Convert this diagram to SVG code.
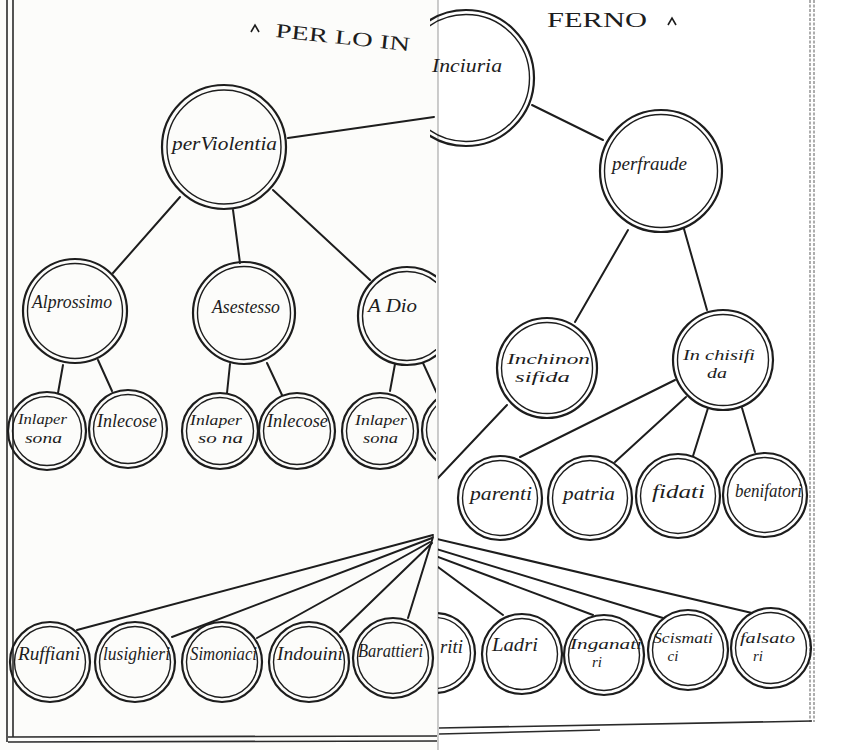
<svg xmlns="http://www.w3.org/2000/svg" width="856" height="750" viewBox="0 0 856 750">
<style>
.o{fill:none;stroke:#1d1d1d;stroke-width:2.2}
.i{fill:none;stroke:#1d1d1d;stroke-width:1.4}
.c{fill:none;stroke:#1d1d1d;stroke-width:2;stroke-linecap:round}
.t{font-family:"Liberation Serif","DejaVu Serif",serif;font-style:italic;font-size:18px;fill:#1d1d1d}
.s{font-size:15px}
.h{font-family:"Liberation Serif","DejaVu Serif",serif;font-size:20px;fill:#1d1d1d}
.b{fill:none;stroke:#2a2a2a;stroke-width:1.6}
.bd{fill:none;stroke:#777;stroke-width:1.2;stroke-dasharray:3 1.5}
</style>
<defs>
<clipPath id="cl"><rect x="0" y="0" width="436" height="750"/></clipPath>
<clipPath id="cr"><rect x="438" y="0" width="418" height="750"/></clipPath>
<clipPath id="cr2"><rect x="430" y="0" width="426" height="750"/></clipPath>
</defs>
<rect x="0" y="0" width="856" height="750" fill="#ffffff"/>
<rect x="0" y="0" width="438" height="750" fill="#fcfcfa"/>

<!-- page frames -->
<g id="frame">
<line class="b" x1="7" y1="0" x2="7" y2="742"/>
<line class="b" x1="13" y1="0" x2="13" y2="737" stroke-width="1.2"/>
<line class="b" x1="8" y1="737" x2="437" y2="736"/>
<line class="b" x1="8" y1="742" x2="437" y2="741" stroke-width="1.2"/>
<line x1="438" y1="0" x2="438" y2="750" stroke="#999" stroke-width="1"/>
<line class="bd" x1="810" y1="0" x2="810" y2="722"/>
<line class="bd" x1="814" y1="0" x2="814" y2="722"/>
<line class="b" x1="439" y1="728" x2="812" y2="721"/>
<line class="b" x1="439" y1="734" x2="600" y2="730" stroke-width="1.2"/>
</g>

<!-- title -->
<g id="title">
<path d="M251,32 L255,25 L259,32" fill="none" stroke="#1d1d1d" stroke-width="1.6"/>
<text class="h" x="275" y="37" textLength="135" lengthAdjust="spacingAndGlyphs" transform="rotate(6 275 37)">PER LO IN</text>
<text class="h" x="547" y="27" textLength="100" lengthAdjust="spacingAndGlyphs">FERNO</text>
<path d="M668,25 L672,18 L676,25" fill="none" stroke="#1d1d1d" stroke-width="1.6"/>
</g>

<!-- connectors -->
<g id="connectors">
<g clip-path="url(#cl)">
<line class="c" x1="288" y1="138" x2="434" y2="117"/>
<line class="c" x1="180" y1="197" x2="113" y2="273"/>
<line class="c" x1="233" y1="210" x2="240" y2="263"/>
<line class="c" x1="273" y1="190" x2="370" y2="280" stroke-width="1.5"/>
<line class="c" x1="63" y1="365" x2="58" y2="393"/>
<line class="c" x1="98" y1="360" x2="112" y2="391"/>
<line class="c" x1="230" y1="364" x2="227" y2="393"/>
<line class="c" x1="267" y1="363" x2="282" y2="395"/>
<line class="c" x1="395" y1="364" x2="390" y2="391"/>
<line class="c" x1="423" y1="363" x2="440" y2="400" stroke-width="1.5"/>
<line class="c" x1="433" y1="535" x2="77" y2="630" stroke-width="2.4"/>
<line class="c" x1="432" y1="538" x2="172" y2="637" stroke-width="2.2"/>
<line class="c" x1="430" y1="542" x2="257" y2="638"/>
<line class="c" x1="432" y1="543" x2="340" y2="632"/>
<line class="c" x1="433" y1="537" x2="408" y2="618"/>
</g>
<g clip-path="url(#cr)">
<line class="c" x1="532" y1="105" x2="603" y2="140" stroke-width="2.4"/>
<line class="c" x1="628" y1="230" x2="575" y2="322"/>
<line class="c" x1="684" y1="229" x2="707" y2="310"/>
<line class="c" x1="507" y1="405" x2="437" y2="479"/>
<line class="c" x1="675" y1="380" x2="520" y2="457"/>
<line class="c" x1="686" y1="397" x2="615" y2="462"/>
<line class="c" x1="708" y1="408" x2="693" y2="456"/>
<line class="c" x1="742" y1="408" x2="755" y2="452"/>
<line class="c" x1="433" y1="538" x2="752" y2="613" stroke-width="2.2"/>
<line class="c" x1="433" y1="548" x2="663" y2="618"/>
<line class="c" x1="438" y1="557" x2="593" y2="615"/>
<line class="c" x1="438" y1="567" x2="503" y2="615"/>
</g>
</g>

<!-- left page nodes -->
<g clip-path="url(#cl)">
<g id="perViolentia"><circle class="o" cx="224" cy="147" r="62"/><circle class="i" cx="224" cy="147" r="57"/><text class="t" x="172" y="150" textLength="105" lengthAdjust="spacingAndGlyphs">perViolentia</text></g>
<g id="alprossimo"><circle class="o" cx="75" cy="311" r="52"/><circle class="i" cx="75" cy="311" r="47.5"/><text class="t" x="32" y="308" textLength="80" lengthAdjust="spacingAndGlyphs">Alprossimo</text></g>
<g id="asestesso"><circle class="o" cx="244" cy="313" r="51"/><circle class="i" cx="244" cy="313" r="46.5"/><text class="t" x="212" y="313" textLength="68" lengthAdjust="spacingAndGlyphs">Asestesso</text></g>
<g id="adio"><circle class="o" cx="407" cy="316" r="49"/><circle class="i" cx="407" cy="316" r="44.5"/><text class="t" x="368" y="312" textLength="49" lengthAdjust="spacingAndGlyphs">A Dio</text></g>
<g id="persona1"><circle class="o" cx="47" cy="431" r="39"/><circle class="i" cx="47" cy="431" r="34.5"/><text class="t s" x="18" y="424" textLength="49" lengthAdjust="spacingAndGlyphs">Inlaper</text><text class="t s" x="25" y="443" textLength="37" lengthAdjust="spacingAndGlyphs">sona</text></g>
<g id="cose1"><circle class="o" cx="128" cy="429" r="39"/><circle class="i" cx="128" cy="429" r="34.5"/><text class="t" x="97" y="427" textLength="60" lengthAdjust="spacingAndGlyphs">Inlecose</text></g>
<g id="persona2"><circle class="o" cx="220" cy="431" r="38"/><circle class="i" cx="220" cy="431" r="33.5"/><text class="t s" x="190" y="425" textLength="52" lengthAdjust="spacingAndGlyphs">Inlaper</text><text class="t s" x="198" y="443" textLength="45" lengthAdjust="spacingAndGlyphs">so na</text></g>
<g id="cose2"><circle class="o" cx="297" cy="431" r="38"/><circle class="i" cx="297" cy="431" r="33.5"/><text class="t" x="267" y="427" textLength="61" lengthAdjust="spacingAndGlyphs">Inlecose</text></g>
<g id="persona3"><circle class="o" cx="380" cy="431" r="38"/><circle class="i" cx="380" cy="431" r="33.5"/><text class="t s" x="355" y="425" textLength="52" lengthAdjust="spacingAndGlyphs">Inlaper</text><text class="t s" x="363" y="443" textLength="35" lengthAdjust="spacingAndGlyphs">sona</text></g>
<g id="cut4"><circle class="o" cx="461" cy="430" r="39"/><circle class="i" cx="461" cy="430" r="34.5"/></g>
<g id="ruffiani"><circle class="o" cx="50" cy="662" r="40"/><circle class="i" cx="50" cy="662" r="35.5"/><text class="t" x="18" y="660" textLength="62" lengthAdjust="spacingAndGlyphs">Ruffiani</text></g>
<g id="lusighieri"><circle class="o" cx="135" cy="662" r="40"/><circle class="i" cx="135" cy="662" r="35.5"/><text class="t" x="103" y="660" textLength="67" lengthAdjust="spacingAndGlyphs">lusighieri</text></g>
<g id="simoniaci"><circle class="o" cx="222" cy="662" r="40"/><circle class="i" cx="222" cy="662" r="35.5"/><text class="t" x="190" y="660" textLength="67" lengthAdjust="spacingAndGlyphs">Simoniaci</text></g>
<g id="indouini"><circle class="o" cx="309" cy="662" r="40"/><circle class="i" cx="309" cy="662" r="35.5"/><text class="t" x="277" y="660" textLength="66" lengthAdjust="spacingAndGlyphs">Indouini</text></g>
<g id="barattieri"><circle class="o" cx="393" cy="658" r="40"/><circle class="i" cx="393" cy="658" r="35.5"/><text class="t" x="358" y="657" textLength="65" lengthAdjust="spacingAndGlyphs">Barattieri</text></g>
</g>

<!-- right page nodes -->
<g id="inciuria" clip-path="url(#cr2)"><circle class="o" cx="466" cy="78" r="68"/><circle class="i" cx="466" cy="78" r="63.5"/><text class="t" x="432" y="72" textLength="70" lengthAdjust="spacingAndGlyphs">Inciuria</text></g>
<g clip-path="url(#cr)">
<g id="perfraude"><circle class="o" cx="661" cy="171" r="61"/><circle class="i" cx="661" cy="171" r="56.5"/><text class="t" x="612" y="170" textLength="75" lengthAdjust="spacingAndGlyphs">perfraude</text></g>
<g id="inchinonsifida"><circle class="o" cx="547" cy="368" r="50"/><circle class="i" cx="547" cy="368" r="45.5"/><text class="t s" x="507" y="364" textLength="83" lengthAdjust="spacingAndGlyphs">Inchinon</text><text class="t s" x="515" y="382" textLength="55" lengthAdjust="spacingAndGlyphs">sifida</text></g>
<g id="inchisifida"><circle class="o" cx="723" cy="360" r="50"/><circle class="i" cx="723" cy="360" r="45.5"/><text class="t s" x="683" y="360" textLength="72" lengthAdjust="spacingAndGlyphs">In chisifi</text><text class="t s" x="707" y="378" textLength="20" lengthAdjust="spacingAndGlyphs">da</text></g>
<g id="parenti"><circle class="o" cx="500" cy="498" r="42"/><circle class="i" cx="500" cy="498" r="37.5"/><text class="t" x="470" y="500" textLength="62" lengthAdjust="spacingAndGlyphs">parenti</text></g>
<g id="patria"><circle class="o" cx="590" cy="498" r="42"/><circle class="i" cx="590" cy="498" r="37.5"/><text class="t" x="563" y="500" textLength="52" lengthAdjust="spacingAndGlyphs">patria</text></g>
<g id="fidati"><circle class="o" cx="678" cy="496" r="42"/><circle class="i" cx="678" cy="496" r="37.5"/><text class="t" x="652" y="498" textLength="53" lengthAdjust="spacingAndGlyphs">fidati</text></g>
<g id="benifatori"><circle class="o" cx="765" cy="495" r="42"/><circle class="i" cx="765" cy="495" r="37.5"/><text class="t" x="735" y="497" textLength="67" lengthAdjust="spacingAndGlyphs">benifatori</text></g>
<g id="riti"><circle class="o" cx="435" cy="653" r="40"/><circle class="i" cx="435" cy="653" r="35.5"/><text class="t" x="440" y="653" textLength="23" lengthAdjust="spacingAndGlyphs">riti</text></g>
<g id="ladri"><circle class="o" cx="522" cy="654" r="40"/><circle class="i" cx="522" cy="654" r="35.5"/><text class="t" x="492" y="651" textLength="46" lengthAdjust="spacingAndGlyphs">Ladri</text></g>
<g id="inganatori"><circle class="o" cx="604" cy="655" r="40"/><circle class="i" cx="604" cy="655" r="35.5"/><text class="t s" x="570" y="649" textLength="72" lengthAdjust="spacingAndGlyphs">Inganati</text><text class="t s" x="597" y="667" text-anchor="middle">ri</text></g>
<g id="scismatici"><circle class="o" cx="688" cy="650" r="40"/><circle class="i" cx="688" cy="650" r="35.5"/><text class="t s" x="653" y="643" textLength="60" lengthAdjust="spacingAndGlyphs">Scismati</text><text class="t s" x="673" y="661" text-anchor="middle">ci</text></g>
<g id="falsatori"><circle class="o" cx="771" cy="648" r="40"/><circle class="i" cx="771" cy="648" r="35.5"/><text class="t s" x="740" y="643" textLength="55" lengthAdjust="spacingAndGlyphs">falsato</text><text class="t s" x="758" y="661" text-anchor="middle">ri</text></g>
</g>
</svg>
